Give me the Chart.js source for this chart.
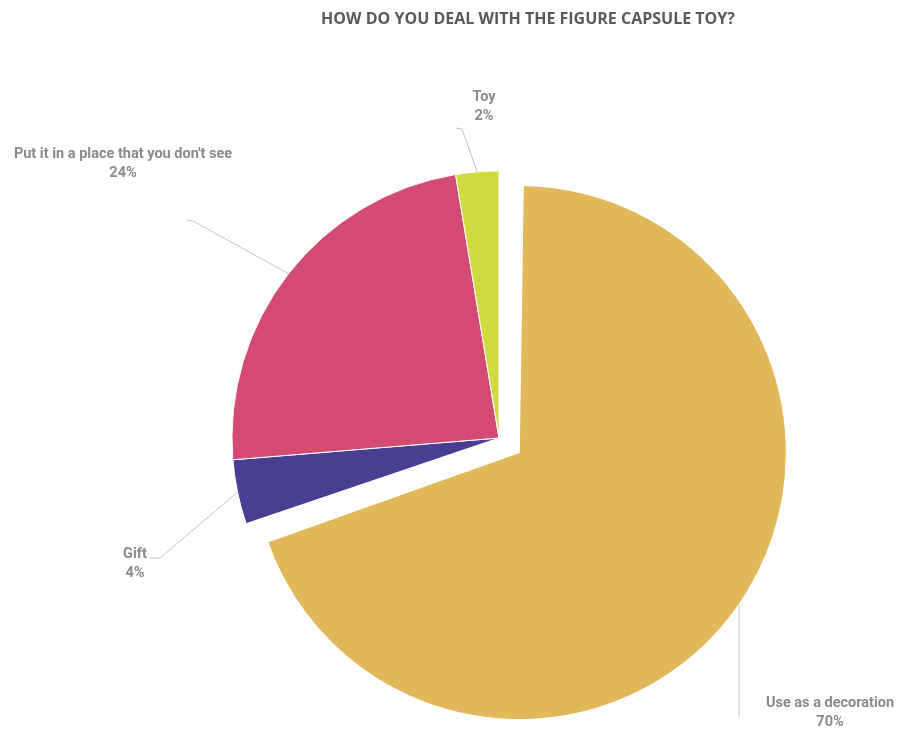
<!DOCTYPE html>
<html lang="en">
<head>
    <meta charset="UTF-8">
    <title>Figure capsule toy</title>
    <script src="https://cdn.jsdelivr.net/npm/chart.js"></script>
    <style>
        body { margin: 0; background: #fff; }
        #wrap { width: 898px; height: 734px; }
    </style>
</head>
<body>
    <div id="wrap">
        <canvas id="myChart" width="898" height="734"></canvas>
    </div>

<script>
    // dados do grafico (fatias medidas no desenho original)
    const categorias = ['Use as a decoration', 'Gift', "Put it in a place that you don't see", 'Toy'];
    const valores = [69.8, 3.9, 23.7, 2.6];
    const porcentagens = ['70%', '4%', '24%', '2%'];
    const cores = ['#E1B95B', '#483F92', '#D34A73', '#D2D93E'];
    const titulo = 'HOW DO YOU DEAL WITH THE FIGURE CAPSULE TOY?';

    // onde fica cada rotulo (texto) e o cotovelo da linha guia
    const rotulos = [
        { tx: 830, ty: 703, elbow: [739, 717], vertical: true },
        { tx: 135, ty: 554, elbow: [160, 558], start: [150, 558] },
        { tx: 123, ty: 154, elbow: [193, 221], start: [187, 220] },
        { tx: 484, ty: 97, elbow: [462, 129], start: [456, 128] }
    ];

    // o chart.js aumenta o raio da fatia destacada; aqui desfaz isso
    // para a fatia so andar para fora, como no excel
    const ajusteRaio = {
        id: 'ajusteRaio',
        afterDatasetUpdate(chart, args) {
            args.meta.data.forEach(arc => {
                const desl = (arc.options.offset || 0) / 4;
                const circ = arc.endAngle - arc.startAngle;
                const fix = 1 - Math.sin(Math.min(Math.PI, circ));
                arc.outerRadius -= desl * fix;
            });
        }
    };

    const rotulosPlugin = {
        id: 'rotulos',
        afterDraw(chart) {
            const ctx = chart.ctx;
            const meta = chart.getDatasetMeta(0);
            const raio = meta.controller.outerRadius;

            // titulo
            ctx.save();
            ctx.fillStyle = '#595959';
            ctx.font = 'bold 16px "Open Sans"';
            ctx.textAlign = 'center';
            ctx.textBaseline = 'middle';
            ctx.fillText(titulo, 528, 19);
            ctx.restore();

            meta.data.forEach((arc, i) => {
                const p = arc.getProps(['x', 'y', 'startAngle', 'endAngle'], true);
                const meio = (p.startAngle + p.endAngle) / 2;
                // o chart.js desloca a fatia em offset/4
                const desl = (arc.options.offset || 0) / 4;
                const cx = p.x + Math.cos(meio) * desl;
                const cy = p.y + Math.sin(meio) * desl;
                const r = rotulos[i];
                let ex, ey;
                if (r.vertical) {
                    ex = r.elbow[0];
                    const dx = ex - cx;
                    ey = cy + Math.sqrt(Math.max(raio * raio - dx * dx, 0));
                } else {
                    ex = cx + Math.cos(meio) * raio;
                    ey = cy + Math.sin(meio) * raio;
                }

                ctx.save();
                ctx.strokeStyle = '#c4c4c4';
                ctx.lineWidth = 1;
                ctx.beginPath();
                if (r.start) {
                    ctx.moveTo(r.start[0], r.start[1]);
                    ctx.lineTo(r.elbow[0], r.elbow[1]);
                } else {
                    ctx.moveTo(r.elbow[0], r.elbow[1]);
                }
                ctx.lineTo(ex, ey);
                ctx.stroke();

                ctx.fillStyle = '#8a8a8a';
                ctx.font = 'bold 14.5px Roboto';
                ctx.textAlign = 'center';
                ctx.textBaseline = 'middle';
                ctx.fillText(categorias[i], r.tx, r.ty);
                ctx.fillText(porcentagens[i], r.tx, r.ty + 19);
                ctx.restore();
            });
        }
    };

    const ctx = document.getElementById('myChart').getContext('2d');
    const myChart = new Chart(ctx, {
        type: 'pie',
        data: {
            labels: categorias,
            datasets: [{
                data: valores,
                backgroundColor: cores,
                borderColor: '#ffffff',
                borderWidth: 1,
                offset: [100, 0, 0, 0],
                hoverOffset: 0
            }]
        },
        options: {
            responsive: false,
            animation: false,
            radius: 267,
            layout: {
                padding: { top: 142, bottom: 0, left: 100, right: 0 }
            },
            plugins: {
                legend: { display: false },
                tooltip: { enabled: false },
                title: { display: false }
            }
        },
        plugins: [ajusteRaio, rotulosPlugin]
    });
</script>
</body>
</html>
